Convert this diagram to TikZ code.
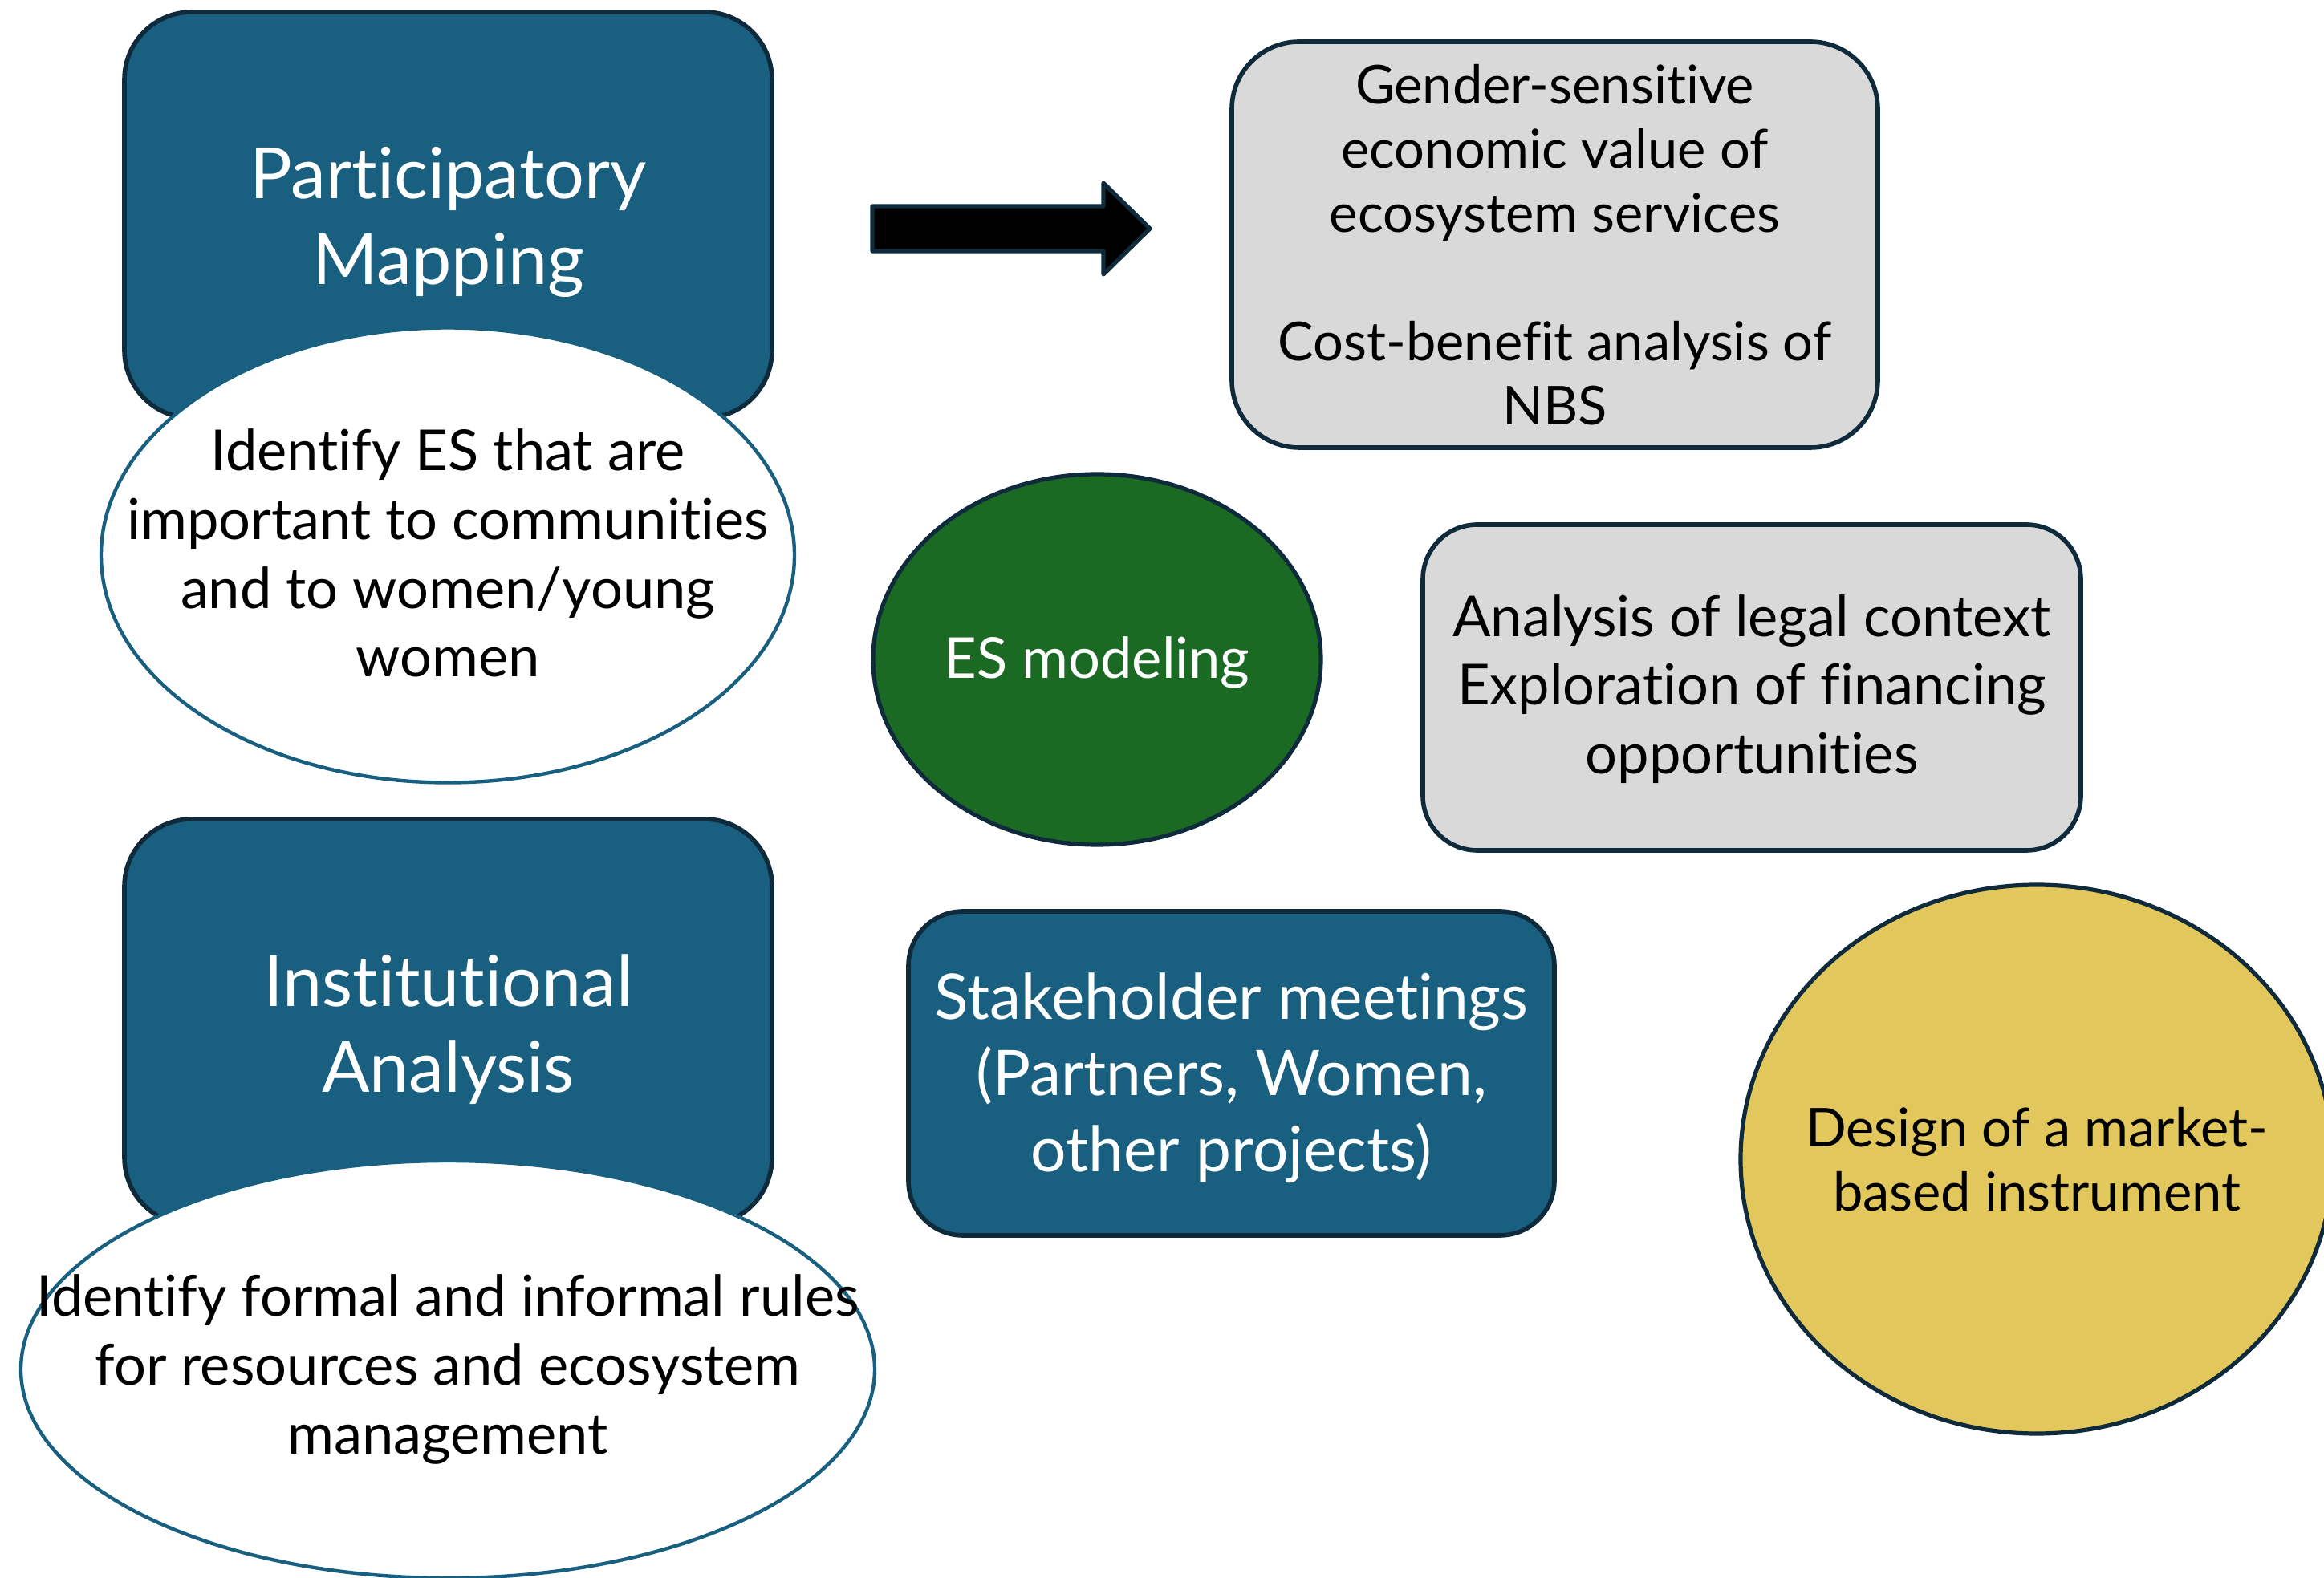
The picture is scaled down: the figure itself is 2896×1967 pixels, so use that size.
\documentclass[tikz,border=0pt]{standalone}
\usepackage{fontspec}
\setmainfont[Ligatures=NoCommon]{Lato}
\usetikzlibrary{shapes.geometric}
\definecolor{boxblue}{HTML}{185F80}
\definecolor{edgedark}{HTML}{0E2A3B}
\definecolor{boxgrey}{HTML}{D9D9D9}
\definecolor{esgreen}{HTML}{1B6A24}
\definecolor{mbyellow}{HTML}{E2C75C}
\tikzset{
  bigbox/.style={draw=edgedark, line width=1.4pt, fill=boxblue, rounded corners=21pt,
     minimum width=201.75pt, minimum height=126.5pt, inner sep=0pt},
  greybox/.style={draw=edgedark, line width=1.4pt, fill=boxgrey, inner sep=0pt},
  bluebox/.style={draw=edgedark, line width=1.4pt, fill=boxblue, inner sep=0pt},
  whiteell/.style={ellipse, draw=boxblue, line width=1.1pt, fill=white, inner sep=0pt},
  titletext/.style={text=white, align=center, font=\fontsize{22}{26.8}\selectfont, yshift=-2.2pt},
  bodytext/.style={text=black, align=center, font=\fontsize{17.6}{21.4}\selectfont},
}
\begin{document}
\begin{tikzpicture}[x=0.25pt, y=-0.25pt]
\useasboundingbox (0,0) rectangle (2896,1967);
\clip (0,0) rectangle (2896,1967);
% Participatory mapping
\node[bigbox] (pm) at (558.5,268) {};
\node[titletext] (pmt) at (pm.center) {Participatory\\Mapping};
\node[whiteell, minimum width=216pt, minimum height=141.75pt] (e1) at (558,692) {};
\node[bodytext, yshift=0.6pt] (e1t) at (e1.center) {Identify ES that are\\important to communities\\and to women/young\\women};
% Institutional analysis
\node[bigbox] (ia) at (558.5,1274) {};
\node[titletext] (iat) at (ia.center) {Institutional\\Analysis};
\node[whiteell, minimum width=266pt, minimum height=130pt] (e2) at (558,1707) {};
\node[bodytext] (e2t) at (e2.center) {Identify formal and informal rules\\for resources and ecosystem\\management};
% arrow
\draw[draw=edgedark, line width=1.3pt, fill=black, line join=round]
  (1087,257) -- (1375,257) -- (1375,228) -- (1433,285) -- (1375,342) -- (1375,313) -- (1087,313) -- cycle;
% gender box
\node[greybox, rounded corners=21pt, minimum width=201.25pt, minimum height=126.5pt] (gb) at (1937.5,305) {};
\node[text=black, align=center, font=\fontsize{16.7}{20}\selectfont] (gbt) at (gb.center)
  {Gender-sensitive\\economic value of\\ecosystem services\\[20pt]Cost-benefit analysis of\\NBS};
% ES modeling
\node[ellipse, draw=edgedark, line width=1.3pt, fill=esgreen, minimum width=139.5pt, minimum height=115.5pt, inner sep=0pt] (esm) at (1367,822) {};
\node[text=white, font=\fontsize{17.6}{21.4}\selectfont, yshift=-1pt] (esmt) at (esm.center) {ES modeling};
% Analysis box
\node[greybox, rounded corners=17pt, minimum width=205pt, minimum height=101.5pt] (ab) at (2183,857) {};
\node[bodytext, yshift=-0.5pt] (abt) at (ab.center) {Analysis of legal context\\Exploration of financing\\opportunities};
% Stakeholder box
\node[bluebox, rounded corners=17pt, minimum width=201.25pt, minimum height=101pt] (sb) at (1534.5,1338) {};
\node[text=white, align=center, font=\fontsize{19.6}{23.8}\selectfont, yshift=-1.4pt] (sbt) at (sb.center)
  {Stakeholder meetings\\(Partners, Women,\\other projects)};
% yellow ellipse
\node[ellipse, draw=edgedark, line width=1.3pt, fill=mbyellow, minimum width=184.5pt, minimum height=171pt, inner sep=0pt] (ye) at (2538,1445) {};
\node[text=black, align=center, font=\fontsize{16.7}{20}\selectfont] (yet) at (ye.center)
  {Design of a market-\\based instrument};
\end{tikzpicture}
\end{document}
